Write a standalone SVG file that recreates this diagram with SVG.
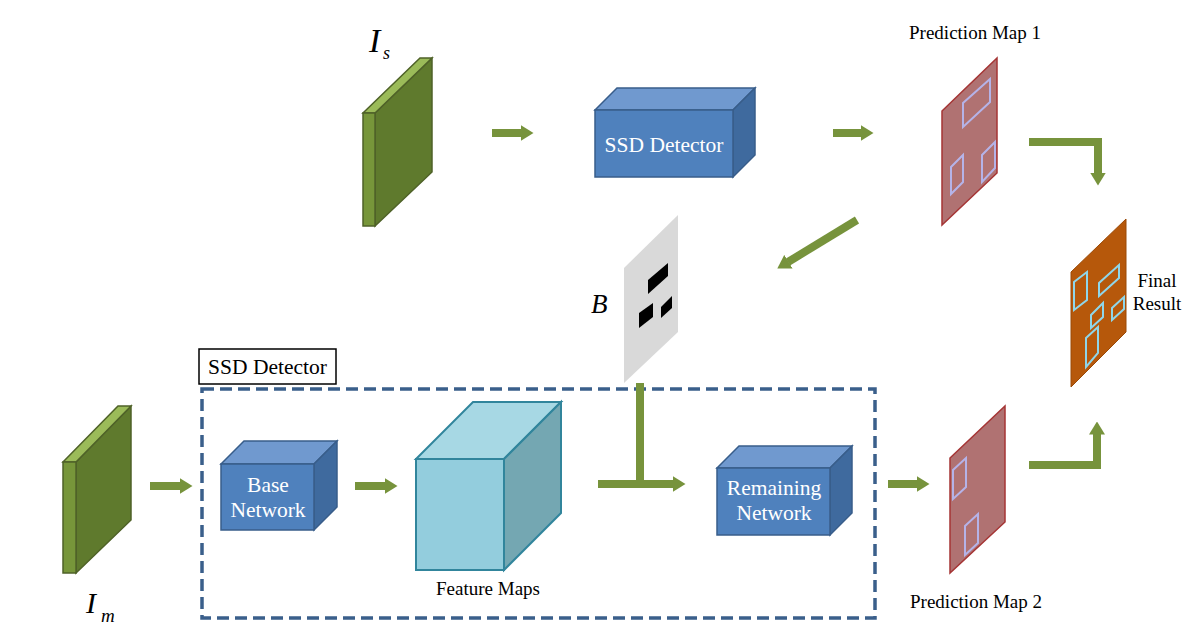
<svg xmlns="http://www.w3.org/2000/svg" width="1190" height="632" viewBox="0 0 1190 632">
<defs>
<marker id="ah" markerUnits="userSpaceOnUse" markerWidth="13" markerHeight="16" viewBox="0 0 13 16" refX="0.5" refY="8" orient="auto">
<path d="M0,0 L13,8 L0,16 z" fill="#77933C"/>
</marker>
</defs>
<style>
.conn{stroke:#77933C;stroke-width:8;fill:none;stroke-linejoin:miter;stroke-linecap:butt}
.gStrip{fill:#77963A;stroke:#4F6228;stroke-width:1.5}
.gTop{fill:#9BBB59;stroke:#4F6228;stroke-width:1.5}
.gFace{fill:#5F7A2D;stroke:#4F6228;stroke-width:1.5}
.bFront{fill:#4F81BD;stroke:#385D8A;stroke-width:1.5}
.bTop{fill:#7099CF;stroke:#385D8A;stroke-width:1.5}
.bSide{fill:#3F6A9E;stroke:#385D8A;stroke-width:1.5}
.cFront{fill:#93CDDD;stroke:#31859C;stroke-width:2}
.cTop{fill:#A7D8E4;stroke:#31859C;stroke-width:2}
.cSide{fill:#74A7B2;stroke:#31859C;stroke-width:2}
.pmap{fill:#B07272;stroke:#A53535;stroke-width:1.5}
.pbox{fill:none;stroke:#B5B3E8;stroke-width:2}
.fmap{fill:#B6580B;stroke:#9A4A08;stroke-width:1}
.fbox{fill:none;stroke:#8FD6EA;stroke-width:2}
text{font-family:'Liberation Serif','DejaVu Serif',serif}
.wt{font-size:21.5px;fill:#FFFFFF;text-anchor:middle}
.bt{font-size:19px;fill:#000000;text-anchor:middle}
.it{font-style:italic;fill:#000000}
</style>

<g id="I_s">
<polygon class="gFace" points="375,113 432,58 432,172 375,226"/>
<polygon class="gTop" points="363,113 375,113 432,58 420,58"/>
<rect class="gStrip" x="363" y="113" width="12" height="113"/>
<text class="it" x="369" y="52" font-size="34" font-family="Liberation Serif, serif">I</text>
<text class="it" x="383" y="59" font-size="18" font-family="Liberation Serif, serif">s</text>
</g>

<g id="ssd_top">
<polygon class="bTop" points="595,110 733,110 755,88 617,88"/>
<polygon class="bSide" points="733,110 755,88 755,155 733,177"/>
<rect class="bFront" x="595" y="110" width="138" height="67"/>
<text class="wt" x="664" y="152" font-family="Liberation Serif, serif">SSD Detector</text>
</g>

<g id="pred_map_1">
<polygon class="pmap" points="942,111 997,58 997,173 942,225"/>
<polygon class="pbox" points="963,103 963,127 990,102 990,79"/>
<polygon class="pbox" points="951,167 951,194 963,182 963,155"/>
<polygon class="pbox" points="982,155 982,182 995,168 995,142"/>
<text class="bt" x="975" y="39" font-family="Liberation Serif, serif">Prediction Map 1</text>
</g>

<g id="final_result">
<polygon class="fmap" points="1071,272 1126,219 1126,332 1071,387"/>
<polygon class="fbox" points="1074,282 1074,310 1087,300 1087,272"/>
<polygon class="fbox" points="1099,283 1099,296 1119,278 1119,265"/>
<polygon class="fbox" points="1091,315 1091,328 1103,317 1103,303"/>
<polygon class="fbox" points="1112,308 1112,320 1124,309 1124,297"/>
<polygon class="fbox" points="1086,338 1086,367 1098,353 1098,327"/>
<text class="bt" x="1157" y="287" font-family="Liberation Serif, serif">Final</text>
<text class="bt" x="1157" y="310" font-family="Liberation Serif, serif">Result</text>
</g>

<g id="B">
<polygon points="624,268 678,215 678,332 624,383" fill="#D9D9D9"/>
<polygon points="648,280 648,294 668,276 668,263" fill="#000000"/>
<polygon points="639,313 639,328 653,317 653,303" fill="#000000"/>
<polygon points="661,307 661,318 672,308 672,296" fill="#000000"/>
<text class="it" x="591" y="313" font-size="27" font-family="Liberation Serif, serif">B</text>
</g>

<g id="ssd_detector_container">
<rect x="202" y="389" width="673" height="229" fill="none" stroke="#3A5F8B" stroke-width="3.5" stroke-dasharray="12 6"/>
<rect x="199" y="349" width="137" height="35" fill="#FFFFFF" stroke="#000000" stroke-width="1.5"/>
<text class="bt" x="267.5" y="374" font-size="21.5" style="font-size:21.5px" font-family="Liberation Serif, serif">SSD Detector</text>
</g>

<g id="I_m">
<polygon class="gFace" points="76,462 131,406 131,520 76,573"/>
<polygon class="gTop" points="63,462 76,462 131,406 118,406"/>
<rect class="gStrip" x="63" y="462" width="13" height="111"/>
<text class="it" x="86" y="613" font-size="30" font-family="Liberation Serif, serif">I</text>
<text class="it" x="101" y="622" font-size="19" font-family="Liberation Serif, serif">m</text>
</g>

<g id="base_network">
<polygon class="bTop" points="221,464 314,464 337,441 244,441"/>
<polygon class="bSide" points="314,464 337,441 337,507 314,530"/>
<rect class="bFront" x="221" y="464" width="93" height="66"/>
<text class="wt" x="268" y="492" font-family="Liberation Serif, serif">Base</text>
<text class="wt" x="268" y="517" font-family="Liberation Serif, serif">Network</text>
</g>

<g id="feature_maps">
<polygon class="cTop" points="416,459 504,459 561,402 473,402"/>
<polygon class="cSide" points="504,459 561,402 561,513 504,570"/>
<rect class="cFront" x="416" y="459" width="88" height="111"/>
<text class="bt" x="488" y="595" font-family="Liberation Serif, serif">Feature Maps</text>
</g>

<g id="remaining_network">
<polygon class="bTop" points="717,468 830,468 852,446 739,446"/>
<polygon class="bSide" points="830,468 852,446 852,513 830,535"/>
<rect class="bFront" x="717" y="468" width="113" height="67"/>
<text class="wt" x="774" y="495" font-family="Liberation Serif, serif">Remaining</text>
<text class="wt" x="774" y="520" font-family="Liberation Serif, serif">Network</text>
</g>

<g id="pred_map_2">
<polygon class="pmap" points="950,458 1005,406 1005,522 950,573"/>
<polygon class="pbox" points="953,470 953,499 966,487 966,458"/>
<polygon class="pbox" points="965,526 965,555 978,543 978,514"/>
<text class="bt" x="976" y="608" font-family="Liberation Serif, serif">Prediction Map 2</text>
</g>

<g id="connectors">
<line class="conn" x1="492" y1="133" x2="521" y2="133" marker-end="url(#ah)"/>
<line class="conn" x1="833" y1="133" x2="861" y2="133" marker-end="url(#ah)"/>
<polyline class="conn" points="1029,142 1098,142 1098,173" marker-end="url(#ah)"/>
<line class="conn" x1="857" y1="220" x2="788" y2="262" marker-end="url(#ah)"/>
<line class="conn" x1="150" y1="486" x2="180" y2="486" marker-end="url(#ah)"/>
<line class="conn" x1="355" y1="486" x2="385" y2="486" marker-end="url(#ah)"/>
<line class="conn" x1="640" y1="383" x2="640" y2="484"/>
<line class="conn" x1="598" y1="484" x2="673" y2="484" marker-end="url(#ah)"/>
<line class="conn" x1="888" y1="484" x2="917" y2="484" marker-end="url(#ah)"/>
<polyline class="conn" points="1029,465 1097,465 1097,434" marker-end="url(#ah)"/>
</g>
</svg>
